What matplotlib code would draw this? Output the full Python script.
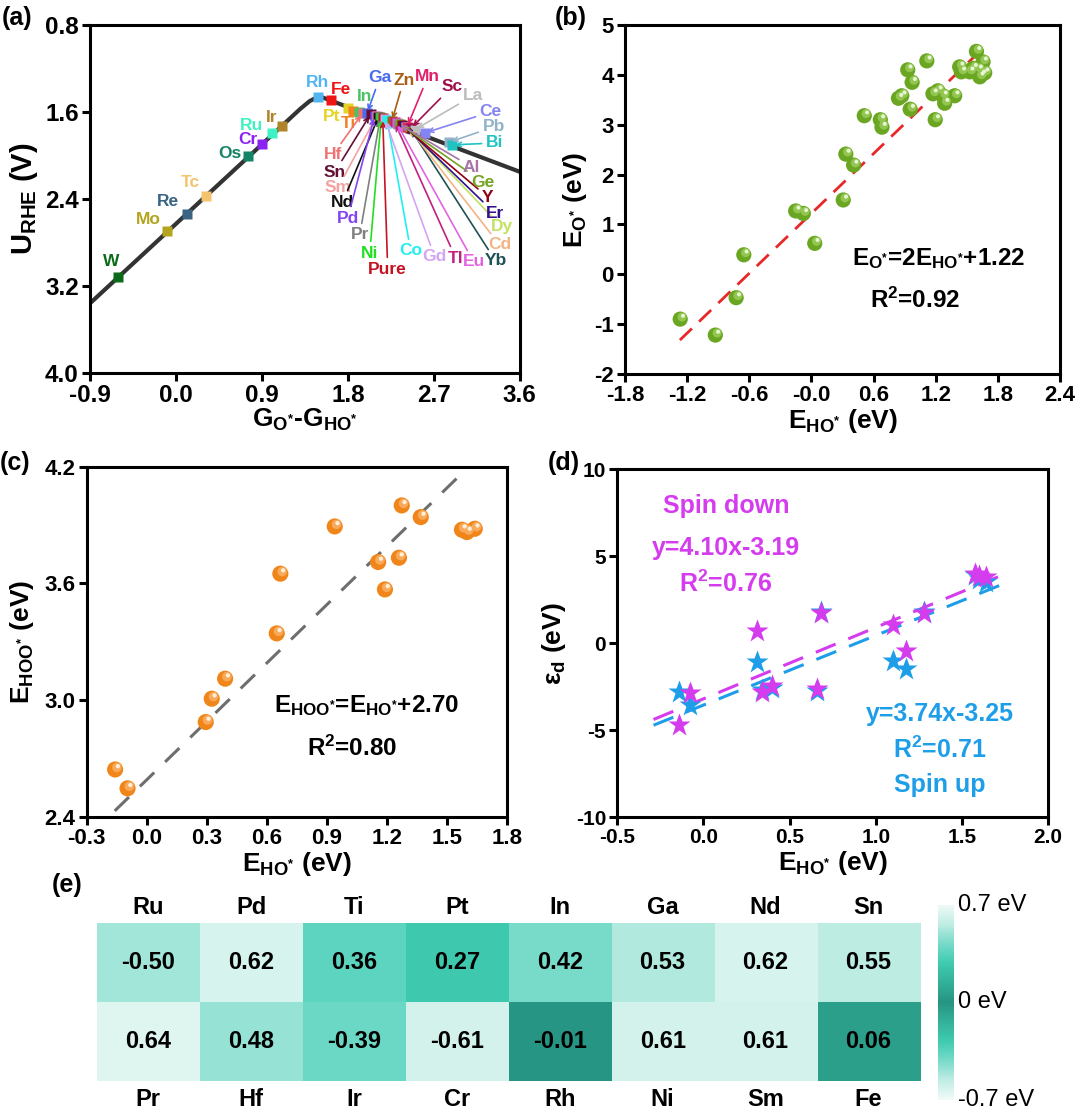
import numpy as np
import matplotlib
matplotlib.use("Agg")
import matplotlib.pyplot as plt
from matplotlib.colors import LinearSegmentedColormap
from matplotlib.transforms import offset_copy

plt.rcParams['font.family'] = ['Liberation Sans', 'DejaVu Sans']
plt.rcParams['font.weight'] = 'bold'
plt.rcParams['axes.labelweight'] = 'bold'
plt.rcParams['axes.unicode_minus'] = False
plt.rcParams['mathtext.fontset'] = 'custom'
plt.rcParams['mathtext.rm'] = 'Liberation Sans:bold'
plt.rcParams['mathtext.it'] = 'Liberation Sans:bold'
plt.rcParams['mathtext.bf'] = 'Liberation Sans:bold'
plt.rcParams['mathtext.default'] = 'regular'

# ---------------- data ----------------
# (a) volcano: limiting potential vs G_O* - G_HO*
volcano_g = [-0.9, 1.30, 1.40, 1.50, 3.6]
volcano_u = [3.36, 1.573, 1.50, 1.455, 2.15]

elem_a = ['W', 'Mo', 'Re', 'Tc', 'Os', 'Cr', 'Ru', 'Ir', 'Rh', 'Fe', 'Pt', 'Ti', 'In', 'Hf',
          'Ga', 'Sn', 'Pd', 'Sm', 'Nd', 'Pr', 'Ni', 'Pure', 'Gd', 'Co', 'Zn', 'Tl', 'Eu', 'Al',
          'Ge', 'Y', 'Er', 'Dy', 'Cd', 'Yb', 'Mn', 'Sc', 'La', 'Ce', 'Pb', 'Bi']
g_a = [-0.604, -0.098, 0.111, 0.310, 0.756, 0.902, 1.007, 1.111, 1.488, 1.621, 1.799, 1.851,
       1.914, 1.956, 2.00, 2.039, 2.08, 2.10, 2.12, 2.14, 2.15, 2.165, 2.186, 2.21, 2.26, 2.29,
       2.31, 2.33, 2.35, 2.37, 2.39, 2.41, 2.43, 2.45, 2.42, 2.46, 2.50, 2.604, 2.86, 2.894]
u_a = [3.114, 2.691, 2.541, 2.372, 2.002, 1.894, 1.796, 1.726, 1.459, 1.490, 1.563, 1.591,
       1.600, 1.609, 1.613, 1.618, 1.637, 1.640, 1.646, 1.650, 1.655, 1.660, 1.664, 1.670,
       1.686, 1.696, 1.702, 1.708, 1.715, 1.721, 1.727, 1.734, 1.740, 1.747, 1.737, 1.750,
       1.763, 1.793, 1.878, 1.903]

# (b) E_O* vs E_HO*
x_b = [-1.267, -0.928, -0.727, -0.653, -0.152, -0.078, 0.032, 0.307, 0.332, 0.407, 0.510,
       0.665, 0.681, 0.840, 0.872, 0.930, 0.972, 0.953, 1.114, 1.195, 1.173, 1.221, 1.270,
       1.286, 1.383, 1.431, 1.447, 1.528, 1.593, 1.609, 1.641, 1.657, 1.673, 1.560, 1.625]
y_b = [-0.90, -1.22, -0.47, 0.39, 1.27, 1.22, 0.62, 1.49, 2.41, 2.19, 3.18, 3.10, 2.95,
       3.53, 3.58, 4.10, 3.85, 3.31, 4.28, 3.10, 3.62, 3.68, 3.58, 3.43, 3.58, 4.16, 4.06,
       4.06, 4.47, 4.10, 4.00, 4.26, 4.04, 4.13, 3.96]
fit_b = (2.0, 1.22)
fit_b_range = (-1.27, 1.60)

# (c) E_HOO* vs E_HO*
x_c = [-0.158, -0.096, 0.295, 0.325, 0.392, 0.650, 0.668, 0.940, 1.157, 1.191, 1.261,
       1.275, 1.370, 1.576, 1.601, 1.640]
y_c = [2.643, 2.546, 2.887, 3.007, 3.110, 3.343, 3.650, 3.893, 3.710, 3.569, 3.732, 4.001,
       3.941, 3.876, 3.864, 3.881]
fit_c = (1.0, 2.59)
fit_c_range = (-0.16, 1.57)

# (d) d-band centre vs E_HO*
x_d = [-0.14, -0.08, 0.31, 0.34, 0.40, 0.66, 0.68, 1.10, 1.175, 1.28, 1.575, 1.60, 1.64]
spin_down = [-4.69, -2.84, 0.71, -2.78, -2.43, -2.64, 1.76, 1.05, -0.44, 1.72, 3.98, 3.85, 3.83]
spin_up = [-2.78, -3.54, -1.05, -2.70, -2.59, -2.72, 1.82, -1.02, -1.49, 1.82, 3.90, 3.70, 3.54]
fit_down = (4.10, -3.19)
fit_up = (4.00, -3.55)
fit_d_range = (-0.29, 1.74)

# (e) heatmap
top_elems = ['Ru', 'Pd', 'Ti', 'Pt', 'In', 'Ga', 'Nd', 'Sn']
bot_elems = ['Pr', 'Hf', 'Ir', 'Cr', 'Rh', 'Ni', 'Sm', 'Fe']
top_vals = [-0.50, 0.62, 0.36, 0.27, 0.42, 0.53, 0.62, 0.55]
bot_vals = [0.64, 0.48, -0.39, -0.61, -0.01, 0.61, 0.61, 0.06]

# ---------------- styles ----------------
colors_a = {
    'W': '#0b6b1a', 'Mo': '#b4a41e', 'Re': '#3a6482', 'Tc': '#f2c46e', 'Os': '#138466',
    'Cr': '#8a22f2', 'Ru': '#3ff2c4', 'Ir': '#b0842a', 'Rh': '#52b4f0', 'Fe': '#f01414',
    'Pt': '#e4d424', 'Ti': '#f28220', 'In': '#4cc264', 'Hf': '#f07272', 'Ga': '#4a6af0',
    'Sn': '#641034', 'Pd': '#8444f2', 'Sm': '#f4a2a2', 'Nd': '#111111', 'Pr': '#808080',
    'Ni': '#20e020', 'Pure': '#c41424', 'Gd': '#d4a4f4', 'Co': '#22f0f0', 'Zn': '#a85c14',
    'Tl': '#c2207e', 'Eu': '#e264e2', 'Al': '#a674a6', 'Ge': '#74a424', 'Y': '#900014',
    'Er': '#32108e', 'Dy': '#c2e264', 'Cd': '#f2b484', 'Yb': '#1e5254', 'Mn': '#e2206c',
    'Sc': '#a0104e', 'La': '#bcbcbc', 'Ce': '#8484f2', 'Pb': '#92b2c8', 'Bi': '#20c2c2',
}
# label position (G, U) and whether an arrow points to the marker
labels_a = {
    'W': (-0.673, 2.977, False), 'Mo': (-0.290, 2.593, False), 'Re': (-0.081, 2.425, False),
    'Tc': (0.146, 2.250, False), 'Os': (0.564, 1.980, False), 'Cr': (0.756, 1.857, False),
    'Ru': (0.791, 1.720, False), 'Ir': (1.000, 1.649, False), 'Rh': (1.485, 1.333, False),
    'Fe': (1.726, 1.389, False), 'Pt': (1.631, 1.646, False), 'Ti': (1.809, 1.710, False),
    'In': (1.977, 1.462, False),
    'Ga': (2.133, 1.287, True), 'Zn': (2.385, 1.306, True), 'Mn': (2.636, 1.278, True),
    'Sc': (2.887, 1.370, True), 'La': (3.106, 1.453, True), 'Ce': (3.295, 1.600, True),
    'Pb': (3.326, 1.738, True), 'Bi': (3.336, 1.885, True), 'Hf': (1.642, 1.995, True),
    'Sn': (1.663, 2.152, True), 'Sm': (1.694, 2.299, True), 'Nd': (1.746, 2.428, True),
    'Pd': (1.799, 2.575, True), 'Pr': (1.924, 2.731, True), 'Ni': (2.029, 2.897, True),
    'Pure': (2.217, 3.044, True), 'Co': (2.458, 2.878, True), 'Gd': (2.709, 2.933, True),
    'Tl': (2.929, 2.943, True), 'Eu': (3.117, 2.979, True), 'Yb': (3.347, 2.970, True),
    'Cd': (3.389, 2.823, True), 'Dy': (3.410, 2.657, True), 'Er': (3.336, 2.529, True),
    'Y': (3.263, 2.382, True), 'Ge': (3.211, 2.244, True), 'Al': (3.096, 2.106, True),
}

SPINE = 2.2
LABEL_FS = 19
ST = '^{*}'   # raised asterisk in subscripts


def style_axes(ax, fs):
    for s in ax.spines.values():
        s.set_linewidth(SPINE)
    ax.tick_params(direction='out', length=6, width=SPINE, labelsize=fs, pad=2,
                   top=False, right=False)


def spheres(ax, x, y, base, mid, hi, s):
    ax.scatter(x, y, s=s, color=base, edgecolors='none', zorder=3)
    tr1 = offset_copy(ax.transData, fig=fig, x=1.3, y=1.5, units='points')
    ax.scatter(x, y, s=s * 0.35, color=mid, edgecolors='none', zorder=4, transform=tr1)
    tr2 = offset_copy(ax.transData, fig=fig, x=2.0, y=2.4, units='points')
    ax.scatter(x, y, s=s * 0.07, color=hi, edgecolors='none', zorder=5, transform=tr2)


fig = plt.figure(figsize=(10.8, 11.15), dpi=100)

# ---------------- (a) ----------------
ax = fig.add_axes([0.0833, 0.6655, 0.398, 0.3121])
ax.plot(volcano_g, volcano_u, color='#333333', lw=3.0, zorder=2, solid_capstyle='round')
for n, g, u in zip(elem_a, g_a, u_a):
    ax.plot(g, u, 's', color=colors_a[n], ms=7.5, mec='none', zorder=3)
for n, (lx, ly, arrow) in labels_a.items():
    i = elem_a.index(n)
    c = colors_a[n]
    if arrow:
        ax.annotate(n, xy=(g_a[i], u_a[i]), xytext=(lx, ly), color=c, fontsize=12.5,
                    ha='center', va='center', zorder=4,
                    arrowprops=dict(arrowstyle='->', color=c, lw=1.2, shrinkA=1, shrinkB=2,
                                    mutation_scale=8))
    else:
        ax.text(lx, ly, n, color=c, fontsize=12.5, ha='center', va='center', zorder=4)
ax.set_xlim(-0.9, 3.6)
ax.set_ylim(4.0, 0.8)
ax.set_xticks(np.arange(-0.9, 3.61, 0.9))
ax.set_yticks(np.arange(0.8, 4.01, 0.8))
ax.xaxis.set_major_formatter(plt.FormatStrFormatter('%.1f'))
ax.yaxis.set_major_formatter(plt.FormatStrFormatter('%.1f'))
style_axes(ax, 17.5)
ax.set_xlabel(f'G$_{{O{ST}}}$-G$_{{HO{ST}}}$', fontsize=LABEL_FS, labelpad=0)
ax.set_ylabel('U$_{RHE}$ (V)', fontsize=21, labelpad=4)

# ---------------- (b) ----------------
ax = fig.add_axes([0.5787, 0.6646, 0.4028, 0.3130])
xf = np.array(fit_b_range)
ax.plot(xf, fit_b[0] * xf + fit_b[1], color='#e82828', lw=2.0, dashes=(6, 3.6), zorder=2)
spheres(ax, x_b, y_b, '#6aa622', '#92c650', '#e6f6d2', 120)
ax.set_xlim(-1.8, 2.4)
ax.set_ylim(-2, 5)
ax.set_xticks(np.arange(-1.8, 2.41, 0.6))
ax.set_yticks(range(-2, 6))
ax.xaxis.set_major_formatter(plt.FormatStrFormatter('%.1f'))
style_axes(ax, 16)
ax.set_xlabel(f'E$_{{HO{ST}}}$ (eV)', fontsize=LABEL_FS, labelpad=1)
ax.set_ylabel(f'E$_{{O{ST}}}$ (eV)', fontsize=LABEL_FS, labelpad=4)
ax.text(0.72, 0.332, f'E$_{{O{ST}}}$=2E$_{{HO{ST}}}$+1.22', transform=ax.transAxes,
        fontsize=17.5, ha='center', va='center')
ax.text(0.667, 0.212, 'R$^{2}$=0.92', transform=ax.transAxes, fontsize=17.5,
        ha='center', va='center')

# ---------------- (c) ----------------
ax = fig.add_axes([0.0803, 0.2675, 0.3889, 0.3139])
xf = np.array(fit_c_range)
ax.plot(xf, fit_c[0] * xf + fit_c[1], color='#6e6e6e', lw=2.2, dashes=(6.5, 5), zorder=2)
spheres(ax, x_c, y_c, '#f0861a', '#f8aa5a', '#fff0dc', 135)
ax.set_xlim(-0.3, 1.8)
ax.set_ylim(2.4, 4.2)
ax.set_xticks(np.arange(-0.3, 1.81, 0.3))
ax.set_yticks([2.4, 3.0, 3.6, 4.2])
ax.xaxis.set_major_formatter(plt.FormatStrFormatter('%.1f'))
ax.yaxis.set_major_formatter(plt.FormatStrFormatter('%.1f'))
style_axes(ax, 16)
ax.set_xlabel(f'E$_{{HO{ST}}}$ (eV)', fontsize=LABEL_FS, labelpad=1)
ax.set_ylabel(f'E$_{{HOO{ST}}}$ (eV)', fontsize=LABEL_FS, labelpad=6)
ax.text(0.667, 0.319, f'E$_{{HOO{ST}}}$=E$_{{HO{ST}}}$+2.70', transform=ax.transAxes,
        fontsize=17.5, ha='center', va='center')
ax.text(0.632, 0.196, 'R$^{2}$=0.80', transform=ax.transAxes, fontsize=17.5,
        ha='center', va='center')

# ---------------- (d) ----------------
ax = fig.add_axes([0.5716, 0.2670, 0.3988, 0.3121])
mag, blu = '#d43cee', '#1e9ee8'
xf = np.array(fit_d_range)
ax.plot(xf, fit_down[0] * xf + fit_down[1], color=mag, lw=2.2, dashes=(7, 4.5), zorder=2)
ax.plot(xf, fit_up[0] * xf + fit_up[1], color=blu, lw=2.2, dashes=(7, 4.5), zorder=2)
ax.plot(x_d, spin_up, '*', color=blu, ms=17, mec='none', ls='none', zorder=3)
ax.plot(x_d, spin_down, '*', color=mag, ms=17, mec='none', ls='none', zorder=4)
ax.set_xlim(-0.5, 2.0)
ax.set_ylim(-10, 10)
ax.set_xticks(np.arange(-0.5, 2.01, 0.5))
ax.set_yticks([-10, -5, 0, 5, 10])
ax.xaxis.set_major_formatter(plt.FormatStrFormatter('%.1f'))
style_axes(ax, 15)
ax.set_xlabel(f'E$_{{HO{ST}}}$ (eV)', fontsize=LABEL_FS, labelpad=1)
ax.set_ylabel('ε$_{d}$ (eV)', fontsize=LABEL_FS, labelpad=6)
for txt, yy in [('Spin down', 0.895), ('y=4.10x-3.19', 0.774), ('R$^{2}$=0.76', 0.670)]:
    ax.text(0.252, yy, txt, color=mag, transform=ax.transAxes, fontsize=18,
            ha='center', va='center')
for txt, yy in [('y=3.74x-3.25', 0.297), ('R$^{2}$=0.71', 0.194), ('Spin up', 0.093)]:
    ax.text(0.749, yy, txt, color=blu, transform=ax.transAxes, fontsize=18,
            ha='center', va='center')

# ---------------- (e) ----------------
cmap = LinearSegmentedColormap.from_list('tealsym', [
    (0.0, '#f2fbf9'), (0.057, '#d5f3ed'), (0.107, '#bdece3'), (0.179, '#86dece'),
    (0.243, '#5dd5c0'), (0.307, '#3ec9ae'), (0.393, '#34b39b'), (0.5, '#279482'),
    (0.607, '#34b39b'), (0.693, '#3ec9ae'), (0.757, '#5dd5c0'), (0.821, '#86dece'),
    (0.893, '#bdece3'), (0.943, '#d5f3ed'), (1.0, '#f2fbf9')])

ax = fig.add_axes([0.0895, 0.0305, 0.7623, 0.1414])
vals = np.array([top_vals, bot_vals])
ax.imshow(vals, cmap=cmap, vmin=-0.7, vmax=0.7, aspect='auto')
for j in range(len(top_elems)):
    ax.text(j, 0, f'{top_vals[j]:.2f}', ha='center', va='center', fontsize=17)
    ax.text(j, 1, f'{bot_vals[j]:.2f}', ha='center', va='center', fontsize=17)
    ax.text(j, -0.70, top_elems[j], ha='center', va='center', fontsize=17)
    ax.text(j, 1.73, bot_elems[j], ha='center', va='center', fontsize=17)
ax.axis('off')

cax = fig.add_axes([0.8685, 0.0135, 0.0139, 0.175])
grad = np.linspace(0.7, -0.7, 256)[:, None]
cax.imshow(grad, cmap=cmap, vmin=-0.7, vmax=0.7, aspect='auto', extent=[0, 1, -0.7, 0.7])
cax.axis('off')
for v, t in [(0.7, '0.7 eV'), (0.0, '0 eV'), (-0.7, '-0.7 eV')]:
    cax.text(1.35, v, t, ha='left', va='center', fontsize=17, fontweight='normal')

# panel letters
for lab, x, y in [('(a)', 0.002, 0.984), ('(b)', 0.514, 0.984), ('(c)', 0.0, 0.585),
                  ('(d)', 0.507, 0.585), ('(e)', 0.048, 0.206)]:
    fig.text(x, y, lab, fontsize=18, ha='left', va='center')

fig.savefig('out.png', dpi=100)
